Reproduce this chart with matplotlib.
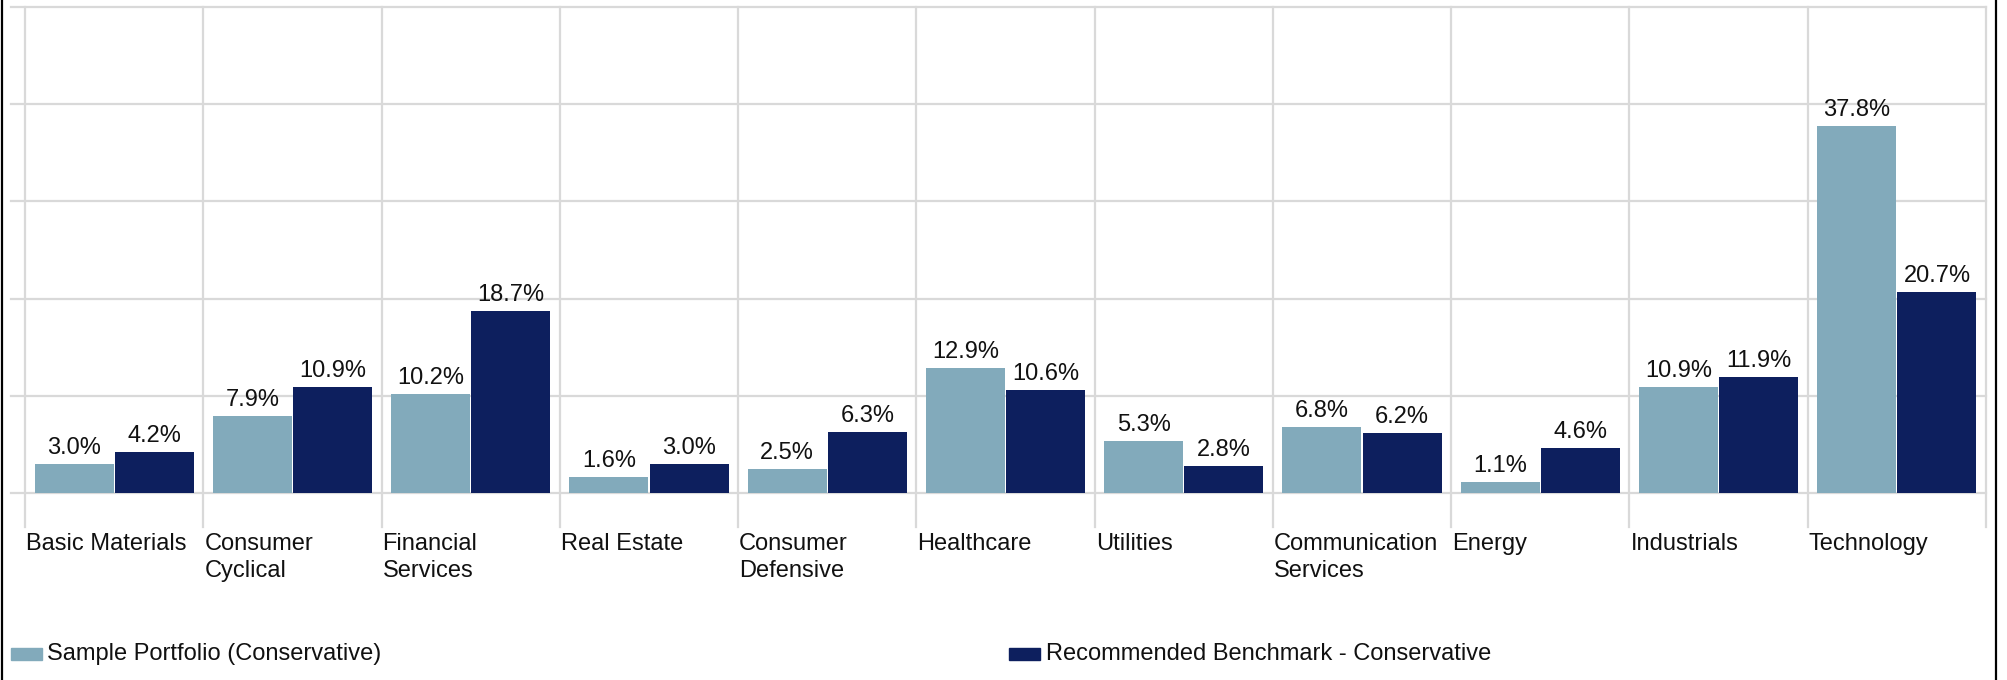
import matplotlib
matplotlib.use("Agg")
import matplotlib.pyplot as plt
from matplotlib.lines import Line2D
from matplotlib.patches import Rectangle
import numpy as np

plt.rcParams['font.family'] = ['Liberation Sans', 'DejaVu Sans']

categories = ["Basic Materials", "Consumer\nCyclical", "Financial\nServices", "Real Estate",
              "Consumer\nDefensive", "Healthcare", "Utilities", "Communication\nServices",
              "Energy", "Industrials", "Technology"]
sample = [3.0, 7.9, 10.2, 1.6, 2.5, 12.9, 5.3, 6.8, 1.1, 10.9, 37.8]
benchmark = [4.2, 10.9, 18.7, 3.0, 6.3, 10.6, 2.8, 6.2, 4.6, 11.9, 20.7]
series_names = ["Sample Portfolio (Conservative)", "Recommended Benchmark - Conservative"]
yticks = [0, 10, 20, 30, 40, 50]

LIGHT = "#82AABB"
DARK = "#0D1F5E"
GRID = "#D9D9D9"

W, H = 2007, 680
fig = plt.figure(figsize=(W / 100, H / 100), dpi=100)
x0, x1 = 25, 1986
ybase, ytop = 493, 7
ax = fig.add_axes([x0 / W, (H - ybase) / H, (x1 - x0) / W, (ybase - ytop) / H])
n = len(categories)
ax.set_xlim(0, n)
ax.set_ylim(0, 50)
ax.axis('off')

px_x = (x1 - x0) / n           # px per category unit
px_y = (ybase - ytop) / 50.0   # px per percent

# horizontal gridlines with small left ticks
for yv in yticks:
    ax.plot([-14 / px_x, n], [yv, yv], color=GRID, lw=1.6, clip_on=False, zorder=0)
# vertical separators extending below baseline
for i in range(n + 1):
    ax.plot([i, i], [-34 / px_y, 50], color=GRID, lw=1.6, clip_on=False, zorder=0)

idx = np.arange(n)
bw = 0.443
ax.bar(idx + 0.5 - 0.225, sample, width=bw, color=LIGHT, zorder=2)
ax.bar(idx + 0.5 + 0.225, benchmark, width=bw, color=DARK, zorder=2)

for i in range(n):
    for xc, v in ((i + 0.5 - 0.225, sample[i]), (i + 0.5 + 0.225, benchmark[i])):
        ax.annotate(f"{v:.1f}%", (xc, v), xytext=(0, 7.2), textcoords='offset points',
                    ha='center', va='baseline', fontsize=17, color='#111111')
    ax.annotate(categories[i], (i, 0), xytext=(1, -40), textcoords='offset pixels',
                ha='left', va='top', fontsize=17, color='#111111', linespacing=1.32,
                annotation_clip=False)

# legend
ly = 654
fig.add_artist(Rectangle((11 / W, (H - 660) / H), 31 / W, 12 / H,
                         transform=fig.transFigure, color=LIGHT))
fig.text(47 / W, (H - ly) / H, series_names[0], fontsize=17, va='center', ha='left', color='#111111')
fig.add_artist(Rectangle((1009 / W, (H - 660) / H), 31 / W, 12 / H,
                         transform=fig.transFigure, color=DARK))
fig.text(1046 / W, (H - ly) / H, series_names[1], fontsize=17, va='center', ha='left', color='#111111')

# outer frame lines
for xp in (1.5, 1995.5):
    fig.add_artist(Line2D([xp / W, xp / W], [0, 1], transform=fig.transFigure, color='black', lw=1.6))

fig.savefig("out.png", dpi=100, facecolor='white')
